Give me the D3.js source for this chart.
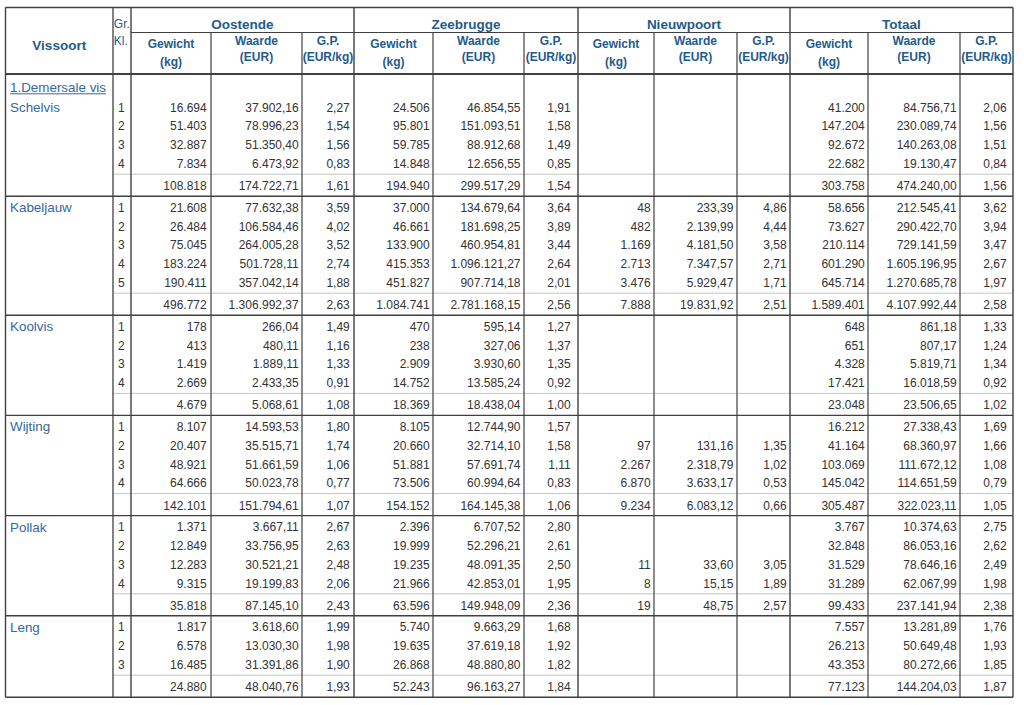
<!DOCTYPE html>
<html><head><meta charset="utf-8">
<script src="https://cdn.jsdelivr.net/npm/d3@7"></script>
<style>body{margin:0;background:#fff}svg{display:block;font-family:"Liberation Sans",Arial,sans-serif}</style>
</head><body><svg id="c" width="1024" height="705"></svg>
<script>
// ---------- DATA ----------
const category = "1.Demersale vis";
const species = ["Schelvis","Kabeljauw","Koolvis","Wijting","Pollak","Leng"];
const sizeClasses = [[1,2,3,4],[1,2,3,4,5],[1,2,3,4],[1,2,3,4],[1,2,3,4],[1,2,3]];
const ports = ["Oostende","Zeebrugge","Nieuwpoort","Totaal"];
const measureTitles = [["Gewicht","(kg)"],["Waarde","(EUR)"],["G.P.","(EUR/kg)"]];
const classHeader = ["Gr.","Kl."];
const firstHeader = "Vissoort";
// each inner array: size classes in order, last value = subtotal of the species
const oostendeKg  = [[16694,51403,32887,7834,108818],[21608,26484,75045,183224,190411,496772],[178,413,1419,2669,4679],[8107,20407,48921,64666,142101],[1371,12849,12283,9315,35818],[1817,6578,16485,24880]];
const oostendeEur = [[37902.16,78996.23,51350.40,6473.92,174722.71],[77632.38,106584.46,264005.28,501728.11,357042.14,1306992.37],[266.04,480.11,1889.11,2433.35,5068.61],[14593.53,35515.71,51661.59,50023.78,151794.61],[3667.11,33756.95,30521.21,19199.83,87145.10],[3618.60,13030.30,31391.86,48040.76]];
const oostendeGp  = [[2.27,1.54,1.56,0.83,1.61],[3.59,4.02,3.52,2.74,1.88,2.63],[1.49,1.16,1.33,0.91,1.08],[1.80,1.74,1.06,0.77,1.07],[2.67,2.63,2.48,2.06,2.43],[1.99,1.98,1.90,1.93]];
const zeebruggeKg  = [[24506,95801,59785,14848,194940],[37000,46661,133900,415353,451827,1084741],[470,238,2909,14752,18369],[8105,20660,51881,73506,154152],[2396,19999,19235,21966,63596],[5740,19635,26868,52243]];
const zeebruggeEur = [[46854.55,151093.51,88912.68,12656.55,299517.29],[134679.64,181698.25,460954.81,1096121.27,907714.18,2781168.15],[595.14,327.06,3930.60,13585.24,18438.04],[12744.90,32714.10,57691.74,60994.64,164145.38],[6707.52,52296.21,48091.35,42853.01,149948.09],[9663.29,37619.18,48880.80,96163.27]];
const zeebruggeGp  = [[1.91,1.58,1.49,0.85,1.54],[3.64,3.89,3.44,2.64,2.01,2.56],[1.27,1.37,1.35,0.92,1.00],[1.57,1.58,1.11,0.83,1.06],[2.80,2.61,2.50,1.95,2.36],[1.68,1.92,1.82,1.84]];
const nieuwpoortKg  = [[null,null,null,null,null],[48,482,1169,2713,3476,7888],[null,null,null,null,null],[null,97,2267,6870,9234],[null,null,11,8,19],[null,null,null,null]];
const nieuwpoortEur = [[null,null,null,null,null],[233.39,2139.99,4181.50,7347.57,5929.47,19831.92],[null,null,null,null,null],[null,131.16,2318.79,3633.17,6083.12],[null,null,33.60,15.15,48.75],[null,null,null,null]];
const nieuwpoortGp  = [[null,null,null,null,null],[4.86,4.44,3.58,2.71,1.71,2.51],[null,null,null,null,null],[null,1.35,1.02,0.53,0.66],[null,null,3.05,1.89,2.57],[null,null,null,null]];
const totaalKg  = [[41200,147204,92672,22682,303758],[58656,73627,210114,601290,645714,1589401],[648,651,4328,17421,23048],[16212,41164,103069,145042,305487],[3767,32848,31529,31289,99433],[7557,26213,43353,77123]];
const totaalEur = [[84756.71,230089.74,140263.08,19130.47,474240.00],[212545.41,290422.70,729141.59,1605196.95,1270685.78,4107992.44],[861.18,807.17,5819.71,16018.59,23506.65],[27338.43,68360.97,111672.12,114651.59,322023.11],[10374.63,86053.16,78646.16,62067.99,237141.94],[13281.89,50649.48,80272.66,144204.03]];
const totaalGp  = [[2.06,1.56,1.51,0.84,1.56],[3.62,3.94,3.47,2.67,1.97,2.58],[1.33,1.24,1.34,0.92,1.02],[1.69,1.66,1.08,0.79,1.05],[2.75,2.62,2.49,1.98,2.38],[1.76,1.93,1.85,1.87]];

const portData = [
  [oostendeKg, oostendeEur, oostendeGp],
  [zeebruggeKg, zeebruggeEur, zeebruggeGp],
  [nieuwpoortKg, nieuwpoortEur, nieuwpoortGp],
  [totaalKg, totaalEur, totaalGp]
];

// ---------- LAYOUT ----------
const svg = d3.select("#c");
const loc = d3.formatLocale({decimal:",", thousands:".", grouping:[3], currency:["",""]});
const fmt = [loc.format(",.0f"), loc.format(",.2f"), loc.format(",.2f")];

const edges = [5.5,113,131,211,302,354,433,524,578,654,737,790,868,960,1013];
const colLeft = d3.scaleOrdinal().domain(d3.range(edges.length)).range(edges);
const dataCol = (p,m) => 2 + p*3 + m; // index of column left edge
const pads = [[4.3,3.3,4.2],[3.3,3.5,7.3],[3.4,3.6,3.3],[3.2,3.3,6.4]];

const headerTop = 7.5, headerMid = 32.5, headerBot = 74, catH = 22;
const rowH = 18.8, padTop = 2, subH = 22;
const left = edges[0], right = edges[edges.length-1];

let yCursor = headerBot + catH;
const groups = species.map((s,i)=>{
  const n = sizeClasses[i].length;
  const y0 = yCursor;
  const rows = d3.range(n).map(j => y0 + padTop + rowH*(j+0.5));
  const sep = y0 + padTop + rowH*n + 1;
  const sub = sep + 11.7;
  const end = sep + subH;
  yCursor = end;
  return {name:s, idx:i, n, y0, rows, sep, sub, end};
});
const bottom = yCursor;

const headColor = "#1f5b8c", nameColor = "#34699f", numColor = "#333", lineColor = "#404040";

// ---------- LINES ----------
const gl = svg.append("g");
function hline(y, x1, x2, color, w){ gl.append("line").attr("x1",x1).attr("x2",x2).attr("y1",y).attr("y2",y).attr("stroke",color).attr("stroke-width",w); }
function vline(x, y1, y2, color, w){ gl.append("line").attr("x1",x).attr("x2",x).attr("y1",y1).attr("y2",y2).attr("stroke",color).attr("stroke-width",w); }

// subtotal separators (light)
groups.forEach(g => hline(g.sep, edges[1], right, "#c4c4c4", 1));
// group separators
groups.slice(0,-1).forEach(g => hline(g.end, left, right, lineColor, 1.4));
hline(headerTop, left, right, lineColor, 1.4);
hline(headerMid, edges[2], right, lineColor, 1.2);
hline(headerBot, left, right, lineColor, 2);
hline(bottom, left, right, lineColor, 1.6);
vline(left, headerTop, bottom, lineColor, 1.4);
vline(right, headerTop, bottom, lineColor, 1.4);
vline(edges[1], headerTop, bottom, lineColor, 1.3);
ports.forEach((p,pi)=>{
  vline(colLeft(dataCol(pi,0)), headerTop, bottom, lineColor, 1.4);
  vline(colLeft(dataCol(pi,1)), headerMid, bottom, lineColor, 1.2);
  vline(colLeft(dataCol(pi,2)), headerMid, bottom, lineColor, 1.2);
});

// ---------- HEADER TEXT ----------
const gh = svg.append("g").attr("fill", headColor);
gh.append("text").attr("x",(edges[0]+edges[1])/2).attr("y",50).attr("text-anchor","middle")
  .attr("font-weight","bold").attr("font-size",13.5).text(firstHeader);
gh.selectAll("text.cls").data(classHeader).join("text").attr("class","cls")
  .attr("x",edges[1]+0.8).attr("y",(d,i)=> i===0?28:45).attr("font-size",12).text(d=>d);
ports.forEach((p,pi)=>{
  const x0 = colLeft(dataCol(pi,0)), x1 = colLeft(dataCol(pi,0)+3);
  gh.append("text").attr("x",(x0+x1)/2).attr("y",28.5).attr("text-anchor","middle")
    .attr("font-weight","bold").attr("font-size",13.5).text(p);
  measureTitles.forEach((mt,mi)=>{
    const a = colLeft(dataCol(pi,mi)), b = colLeft(dataCol(pi,mi)+1);
    const ys = mi===0 ? [48.3,65.8] : [45.3,60.5];
    mt.forEach((t,ti)=> gh.append("text").attr("x",(a+b)/2).attr("y",ys[ti]).attr("text-anchor","middle")
      .attr("font-weight","bold").attr("font-size",12).text(t));
  });
});

// ---------- BODY TEXT ----------
const gb = svg.append("g");
const cat = gb.append("text").attr("x",10).attr("y",92).attr("fill",nameColor).attr("font-size",13.4).text(category);
const cw = cat.node().getComputedTextLength();
gb.append("line").attr("x1",10).attr("x2",10+cw).attr("y1",93.8).attr("y2",93.8).attr("stroke",nameColor).attr("stroke-width",1);

groups.forEach(g=>{
  gb.append("text").attr("x",10).attr("y",g.rows[0]).attr("dy","0.35em")
    .attr("fill",nameColor).attr("font-size",13.4).text(g.name);
  gb.selectAll(null).data(sizeClasses[g.idx]).join("text")
    .attr("x",edges[1]+5).attr("y",(d,j)=>g.rows[j]).attr("dy","0.35em")
    .attr("fill",numColor).attr("font-size",12).text(d=>d);
  const ys = g.rows.concat([g.sub]);
  portData.forEach((pd,pi)=>{
    pd.forEach((arr,mi)=>{
      const xr = colLeft(dataCol(pi,mi)+1) - pads[pi][mi];
      const cells = arr[g.idx].map((v,j)=>({v, y: ys[j]})).filter(c=>c.v!==null);
      gb.selectAll(null).data(cells).join("text")
        .attr("x",xr).attr("y",c=>c.y).attr("dy","0.35em").attr("text-anchor","end")
        .attr("fill",numColor).attr("font-size",12).text(c=>fmt[mi](c.v));
    });
  });
});
</script></body></html>
